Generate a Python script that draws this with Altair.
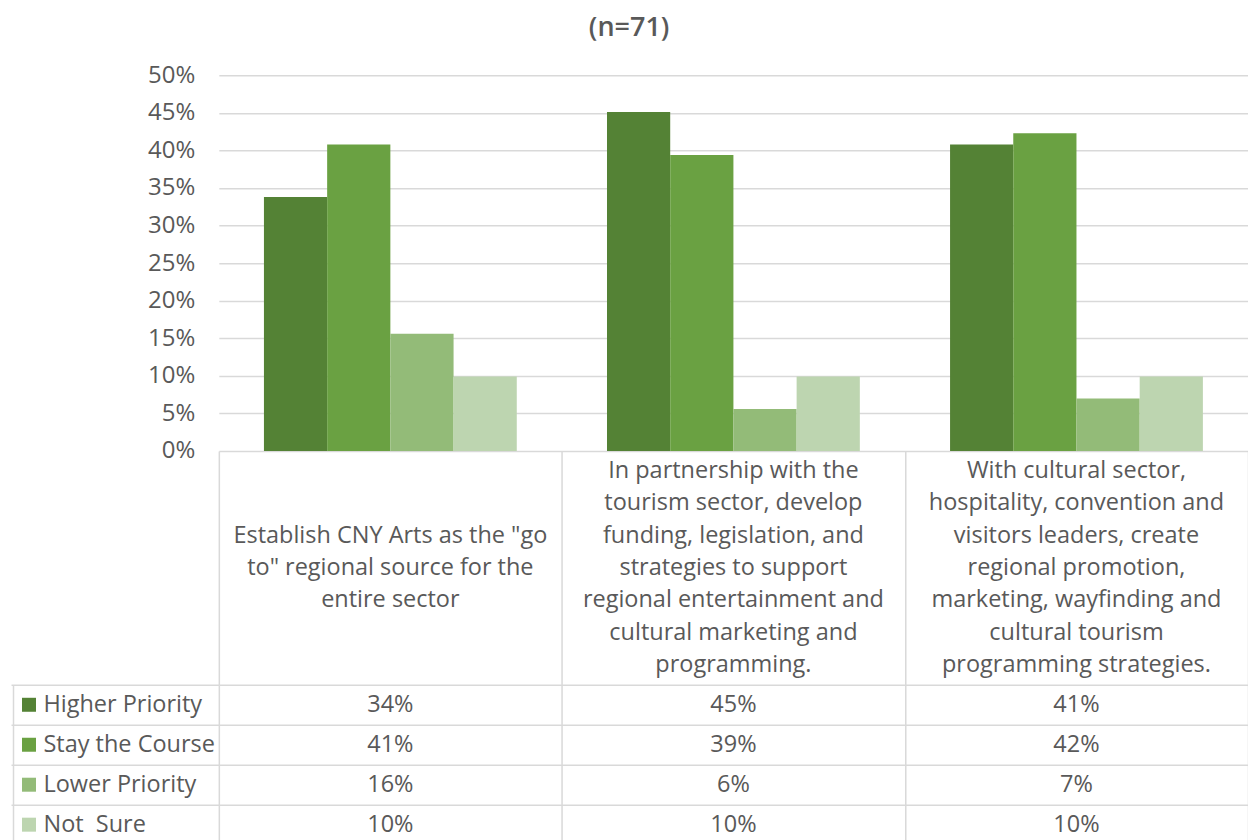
import altair as alt
import pandas as pd

# ---------------- data ----------------
categories = [
    'Establish CNY Arts as the "go\nto" regional source for the\nentire sector',
    "In partnership with the\ntourism sector, develop\nfunding, legislation, and\nstrategies to support\nregional entertainment and\ncultural marketing and\nprogramming.",
    "With cultural sector,\nhospitality, convention and\nvisitors leaders, create\nregional promotion,\nmarketing, wayfinding and\ncultural tourism\nprogramming strategies.",
]
series = ["Higher Priority", "Stay the Course", "Lower Priority", "Not\u00a0 Sure"]
higher = [0.338, 0.451, 0.408]
stay = [0.408, 0.394, 0.423]
lower = [0.156, 0.056, 0.070]
not_sure = [0.099, 0.099, 0.099]
y_ticks = [0, 0.05, 0.10, 0.15, 0.20, 0.25, 0.30, 0.35, 0.40, 0.45, 0.50]
title_text = "(n=71)"

colors = ["#548235", "#6AA142", "#93BB78", "#BDD5B0"]
TEXT = "#595959"
GRID = "#d9d9d9"
FONT = "Open Sans"

rows = []
for s, vals in zip(series, [higher, stay, lower, not_sure]):
    for c, v in zip(categories, vals):
        rows.append({"category": c, "series": s, "value": v})
df = pd.DataFrame(rows)

line_rows = []
for c in categories:
    parts = c.split("\n")
    n = len(parts)
    for i, p in enumerate(parts):
        line_rows.append({"category": c, "line": p, "pos": i - (n - 1) / 2})
lines_df = pd.DataFrame(line_rows)
ser_df = pd.DataFrame({"series": series})

W = 1030
LINE_H = 32.4
LABEL_H = 234
half = LABEL_H / LINE_H / 2

color_enc = alt.Color("series:N", sort=series,
                      scale=alt.Scale(domain=series, range=colors), legend=None)

# ---------------- bars ----------------
bars = alt.Chart(df).mark_bar().encode(
    x=alt.X("category:N", sort=categories, axis=None,
            scale=alt.Scale(paddingInner=0.263, paddingOuter=0.1315)),
    xOffset=alt.XOffset("series:N", sort=series,
                        scale=alt.Scale(paddingInner=0, paddingOuter=0)),
    y=alt.Y("value:Q", title=None,
            scale=alt.Scale(domain=[0, 0.5], nice=False),
            axis=alt.Axis(values=y_ticks, format=".0%", domain=False, ticks=False,
                          labelPadding=24, labelFontSize=24, labelColor=TEXT,
                          gridColor=GRID, gridWidth=1.5)),
    color=color_enc,
).properties(width=W, height=376)

# ---------------- category label row ----------------
band_x_axis = alt.Axis(title=None, labels=False, ticks=False, domain=False,
                       grid=True, tickBand="extent", gridColor=GRID, gridWidth=1.5)

labels = alt.Chart(lines_df).mark_text(fontSize=23.5, color=TEXT).encode(
    x=alt.X("category:N", sort=categories,
            scale=alt.Scale(paddingInner=0, paddingOuter=0), axis=band_x_axis),
    y=alt.Y("pos:Q", axis=None,
            scale=alt.Scale(domain=[-half, half], reverse=True, nice=False, zero=False)),
    text="line:N",
).properties(width=W, height=LABEL_H)

# ---------------- data table ----------------
text_layer = alt.Chart(df).mark_text(fontSize=23.5, color=TEXT).encode(
    x=alt.X("category:N", sort=categories,
            scale=alt.Scale(paddingInner=0, paddingOuter=0), axis=band_x_axis),
    y=alt.Y("series:N", sort=series, title=None,
            scale=alt.Scale(paddingInner=0, paddingOuter=0),
            axis=alt.Axis(orient="left", domain=False, grid=True, tickBand="extent",
                          gridColor=GRID, gridWidth=1.5,
                          ticks=True, tickSize=208, tickColor=GRID, tickWidth=1.5,
                          labelAlign="left", labelPadding=-32, labelFontSize=23.5,
                          labelColor=TEXT, labelLimit=0)),
    text=alt.Text("value:Q", format=".0%"),
)

swatch_layer = alt.Chart(ser_df).mark_square(size=196, opacity=1).encode(
    x=alt.value(-190),
    y=alt.Y("series:N", sort=series, title=None,
            axis=alt.Axis(orient="left", offset=206, domain=True, domainColor=GRID,
                          domainWidth=1.5, labels=False, ticks=False, grid=False)),
    color=color_enc,
)

table = alt.layer(text_layer, swatch_layer).resolve_axis(y="independent").properties(
    width=W, height=160)

chart = alt.vconcat(bars, labels, table, spacing=0, bounds="flush").properties(
    title=alt.Title(title_text, fontSize=27, fontWeight=600, color=TEXT,
                    anchor="middle", offset=21),
    padding={"left": 2, "top": 6, "right": 0, "bottom": 0},
).configure(font=FONT).configure_view(strokeWidth=0)

chart.save("out.html", embed_options={"renderer": "svg", "actions": False})
